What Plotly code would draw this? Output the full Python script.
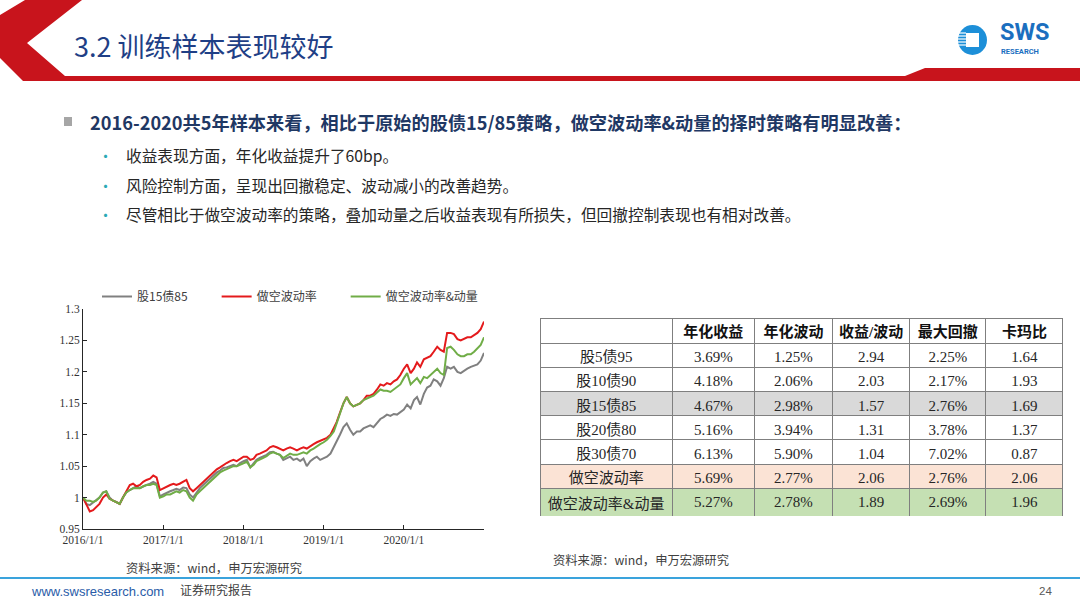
import plotly.graph_objects as go
import pandas as pd

# ---------------- data ----------------
dates = []
for yr in range(2016, 2021):
    for mo in range(1, 13):
        dates.append(f"{yr}-{mo:02d}-01")
        dates.append(f"{yr}-{mo:02d}-16")
dates.append("2020-12-31")

gray_vals = [
    1.000, 0.990, 0.988, 0.992, 0.995, 1.000, 1.008, 1.010, 1.000, 0.995, 0.993, 0.990,
    1.000, 1.008, 1.012, 1.015, 1.018, 1.015, 1.018, 1.020, 1.022, 1.025, 1.022, 1.002,
    1.005, 1.008, 1.010, 1.012, 1.014, 1.012, 1.016, 1.015, 1.005, 1.000, 1.008, 1.015,
    1.020, 1.025, 1.030, 1.035, 1.040, 1.043, 1.047, 1.048, 1.050, 1.052, 1.050, 1.055,
    1.058, 1.060, 1.048, 1.055, 1.060, 1.063, 1.065, 1.068, 1.072, 1.073, 1.070, 1.068,
    1.060, 1.063, 1.065, 1.060, 1.062, 1.058, 1.062, 1.050, 1.058, 1.062, 1.065, 1.060,
    1.062, 1.065, 1.070, 1.080, 1.090, 1.100, 1.112, 1.118, 1.108, 1.100, 1.105, 1.105,
    1.110, 1.112, 1.115, 1.112, 1.118, 1.125, 1.128, 1.132, 1.130, 1.133, 1.132, 1.136,
    1.140, 1.148, 1.142, 1.155, 1.160, 1.148, 1.165, 1.175, 1.178, 1.188, 1.185, 1.178,
    1.190, 1.208, 1.205, 1.208, 1.200, 1.198, 1.202, 1.205, 1.208, 1.210, 1.212, 1.218,
    1.230,
]
red_vals = [
    1.000, 0.988, 0.978, 0.980, 0.985, 0.990, 1.000, 1.005, 0.998, 0.995, 0.992, 0.990,
    1.000, 1.010, 1.020, 1.022, 1.018, 1.020, 1.025, 1.028, 1.030, 1.035, 1.032, 1.012,
    1.015, 1.018, 1.020, 1.022, 1.020, 1.022, 1.025, 1.028, 1.015, 1.010, 1.015, 1.020,
    1.025, 1.030, 1.035, 1.040, 1.045, 1.048, 1.052, 1.055, 1.058, 1.060, 1.058, 1.062,
    1.065, 1.065, 1.060, 1.062, 1.068, 1.070, 1.072, 1.075, 1.080, 1.082, 1.080, 1.078,
    1.075, 1.078, 1.080, 1.078, 1.075, 1.078, 1.080, 1.078, 1.082, 1.085, 1.088, 1.090,
    1.092, 1.095, 1.100, 1.110, 1.120, 1.135, 1.150, 1.160, 1.150, 1.145, 1.148, 1.150,
    1.155, 1.162, 1.162, 1.165, 1.172, 1.180, 1.178, 1.182, 1.180, 1.185, 1.188, 1.195,
    1.205, 1.212, 1.198, 1.205, 1.215, 1.208, 1.220, 1.222, 1.225, 1.232, 1.240, 1.235,
    1.232, 1.262, 1.262, 1.260, 1.252, 1.250, 1.252, 1.255, 1.255, 1.258, 1.262, 1.268,
    1.280,
]
green_vals = [
    1.000, 0.995, 0.995, 0.993, 0.995, 1.000, 1.008, 1.010, 0.998, 0.995, 0.992, 0.990,
    1.000, 1.008, 1.012, 1.015, 1.015, 1.015, 1.018, 1.020, 1.020, 1.022, 1.020, 1.000,
    1.002, 1.005, 1.005, 1.008, 1.010, 1.008, 1.012, 1.010, 1.000, 0.995, 1.005, 1.010,
    1.015, 1.020, 1.025, 1.030, 1.035, 1.040, 1.043, 1.045, 1.048, 1.050, 1.050, 1.052,
    1.055, 1.057, 1.048, 1.052, 1.058, 1.060, 1.063, 1.066, 1.070, 1.072, 1.070, 1.068,
    1.063, 1.066, 1.070, 1.068, 1.068, 1.070, 1.072, 1.070, 1.075, 1.078, 1.082, 1.085,
    1.088, 1.092, 1.098, 1.105, 1.118, 1.135, 1.150, 1.160, 1.150, 1.145, 1.148, 1.150,
    1.155, 1.158, 1.160, 1.162, 1.168, 1.172, 1.170, 1.170, 1.168, 1.172, 1.175, 1.180,
    1.190, 1.198, 1.180, 1.185, 1.190, 1.182, 1.192, 1.190, 1.195, 1.200, 1.205, 1.198,
    1.195, 1.238, 1.240, 1.235, 1.228, 1.225, 1.225, 1.228, 1.228, 1.232, 1.238, 1.243,
    1.255,
]
series_names = ["股15债85", "做空波动率", "做空波动率&动量"]

y_tickvals = [0.95, 1.0, 1.05, 1.1, 1.15, 1.2, 1.25, 1.3]
y_ticktext = ["0.95", "1", "1.05", "1.1", "1.15", "1.2", "1.25", "1.3"]
x_tickvals = ["2016-01-01", "2017-01-01", "2018-01-01", "2019-01-01", "2020-01-01"]
x_ticktext = ["2016/1/1", "2017/1/1", "2018/1/1", "2019/1/1", "2020/1/1"]

table_header = ["", "年化收益", "年化波动", "收益/波动", "最大回撤", "卡玛比"]
row_labels = ["股5债95", "股10债90", "股15债85", "股20债80", "股30债70", "做空波动率", "做空波动率&动量"]
ann_return = ["3.69%", "4.18%", "4.67%", "5.16%", "6.13%", "5.69%", "5.27%"]
ann_vol = ["1.25%", "2.06%", "2.98%", "3.94%", "5.90%", "2.77%", "2.78%"]
ret_vol = ["2.94", "2.03", "1.57", "1.31", "1.04", "2.06", "1.89"]
max_dd = ["2.25%", "2.17%", "2.76%", "3.78%", "7.02%", "2.76%", "2.69%"]
calmar = ["1.64", "1.93", "1.69", "1.37", "0.87", "2.06", "1.96"]

title_text = "3.2 训练样本表现较好"
heading_text = "2016-2020共5年样本来看，相比于原始的股债15/85策略，做空波动率&动量的择时策略有明显改善："
bullet_texts = [
    "收益表现方面，年化收益提升了60bp。",
    "风险控制方面，呈现出回撤稳定、波动减小的改善趋势。",
    "尽管相比于做空波动率的策略，叠加动量之后收益表现有所损失，但回撤控制表现也有相对改善。",
]
source_text = "资料来源：wind，申万宏源研究"

# ---------------- helpers ----------------
W, H = 1080, 608
def px(x):
    return x / W
def py(y):
    return 1 - y / H

CJK = "Noto Sans CJK SC"
SERIF = "Liberation Serif, Noto Sans CJK SC"
PAD = "\u3000\u3000"  # legend spacing

fig = go.Figure()

colors = ["#808080", "#e41a1c", "#70ad47"]
for i, (name, vals, c) in enumerate(zip(series_names, [gray_vals, red_vals, green_vals], colors)):
    fig.add_trace(go.Scatter(
        x=pd.to_datetime(dates), y=vals, name=name + (PAD if i < 2 else ""), mode="lines",
        line=dict(color=c, width=2),
        xaxis="x", yaxis="y",
    ))

# Table
row_fill = ["white", "white", "#d9d9d9", "white", "white", "#fbe3d5", "#c5e0b3"]
fig.add_trace(go.Table(
    domain=dict(x=[px(540), px(1063)], y=[py(516), py(318)]),
    columnwidth=[132, 82, 78, 77, 76, 77],
    header=dict(
        values=table_header,
        fill_color="white",
        line=dict(color="#7f7f7f", width=1),
        font=dict(family=SERIF, size=15, color="#111111", weight="bold"),
        align="center", height=25,
    ),
    cells=dict(
        values=[row_labels, ann_return, ann_vol, ret_vol, max_dd, calmar],
        fill_color=[row_fill] * 6,
        line=dict(color="#7f7f7f", width=1),
        font=dict(family=SERIF, size=15, color="#262626"),
        align="center", height=24.2,
    ),
))

shapes = []
# header red chevron + band
shapes.append(dict(
    type="path", xref="paper", yref="paper",
    path=("M {} {} L {} {} L {} {} L {} {} L {} {} L {} {} L {} {} L {} {} L {} {} L {} {} L {} {} Z").format(
        px(25), py(0), px(82), py(0), px(27), py(43), px(65), py(76),
        px(905), py(76), px(925), py(68), px(1080), py(68), px(1080), py(81),
        px(23), py(81), px(0), py(58), px(0), py(15)),
    fillcolor="#c8141c", line=dict(width=0), layer="below",
))
# logo circle
shapes.append(dict(type="circle", xref="paper", yref="paper",
                   x0=px(958), x1=px(987), y0=py(55), y1=py(25),
                   fillcolor="#1d8fd8", line=dict(width=0)))
shapes.append(dict(type="rect", xref="paper", yref="paper",
                   x0=px(966), x1=px(979), y0=py(47), y1=py(33),
                   fillcolor="white", line=dict(width=0)))
for yy in [33, 36, 39, 42, 45]:
    shapes.append(dict(type="line", xref="paper", yref="paper",
                       x0=px(958), x1=px(966), y0=py(yy), y1=py(yy),
                       line=dict(color="white", width=1.2)))
# heading bullet square
shapes.append(dict(type="rect", xref="paper", yref="paper",
                   x0=px(64), x1=px(72), y0=py(126), y1=py(117),
                   fillcolor="#a6a6a6", line=dict(width=0)))
# footer line
shapes.append(dict(type="line", xref="paper", yref="paper",
                   x0=0, x1=1, y0=py(578), y1=py(578),
                   line=dict(color="#3aa3dc", width=2)))

annotations = []
def txt(x, y, s, size, color, family=CJK, xanchor="left"):
    annotations.append(dict(x=px(x), y=py(y), xref="paper", yref="paper", text=s,
                            showarrow=False, xanchor=xanchor, yanchor="middle",
                            font=dict(family=family, size=size, color=color)))

txt(72, 45, title_text, 27, "#1f3f86")
txt(998, 32, "<b>SWS</b>", 23.5, "#1b6fbf", family="Roboto")
txt(999, 52, "<b>RESEARCH</b>", 7.5, "#1b6fbf", family="Roboto")
txt(88, 122, f"<b>{heading_text}</b>", 18.2, "#1f3864")
for i, t in enumerate(bullet_texts):
    yy = 156 + i * 29
    txt(96, yy, "•", 15, "#2aa9b5")
    txt(124, yy, t, 15.7, "#262626")
txt(124, 568, source_text, 12.3, "#404040")
txt(551, 560, source_text, 12.3, "#404040")
txt(29, 591, "www.swsresearch.com", 13, "#2a5ca8", family="Liberation Sans")
txt(178, 589, "证券研究报告", 12, "#404040")
txt(1054, 591, "24", 11.5, "#595959", family="Liberation Sans", xanchor="right")

fig.update_layout(
    width=W, height=H,
    margin=dict(l=0, r=0, t=0, b=0, autoexpand=False),
    paper_bgcolor="white", plot_bgcolor="white",
    showlegend=True,
    legend=dict(orientation="h", x=px(97), y=py(282), xanchor="left", yanchor="top",
                font=dict(family=CJK, size=12, color="#404040"),
                bgcolor="rgba(0,0,0,0)", itemwidth=30),
    xaxis=dict(domain=[px(83), px(484)], type="date", automargin=False,
               range=["2016-01-01", "2020-12-31"],
               tickvals=x_tickvals, ticktext=x_ticktext,
               showline=True, linecolor="#262626", linewidth=1,
               ticks="inside", ticklen=4, tickcolor="#262626",
               showgrid=False, zeroline=False,
               tickfont=dict(family="Liberation Serif", size=11.5, color="#333333")),
    yaxis=dict(domain=[py(529), py(309)], range=[0.95, 1.3], automargin=False,
               tickvals=y_tickvals, ticktext=y_ticktext,
               showline=True, linecolor="#262626", linewidth=1,
               ticks="inside", ticklen=4, tickcolor="#262626",
               showgrid=False, zeroline=False,
               tickfont=dict(family="Liberation Serif", size=11.5, color="#333333")),
    shapes=shapes, annotations=annotations,
)

fig.write_html("out.html", config={"displayModeBar": False},
               post_script="document.body.style.margin='0';document.body.style.overflow='hidden';")
